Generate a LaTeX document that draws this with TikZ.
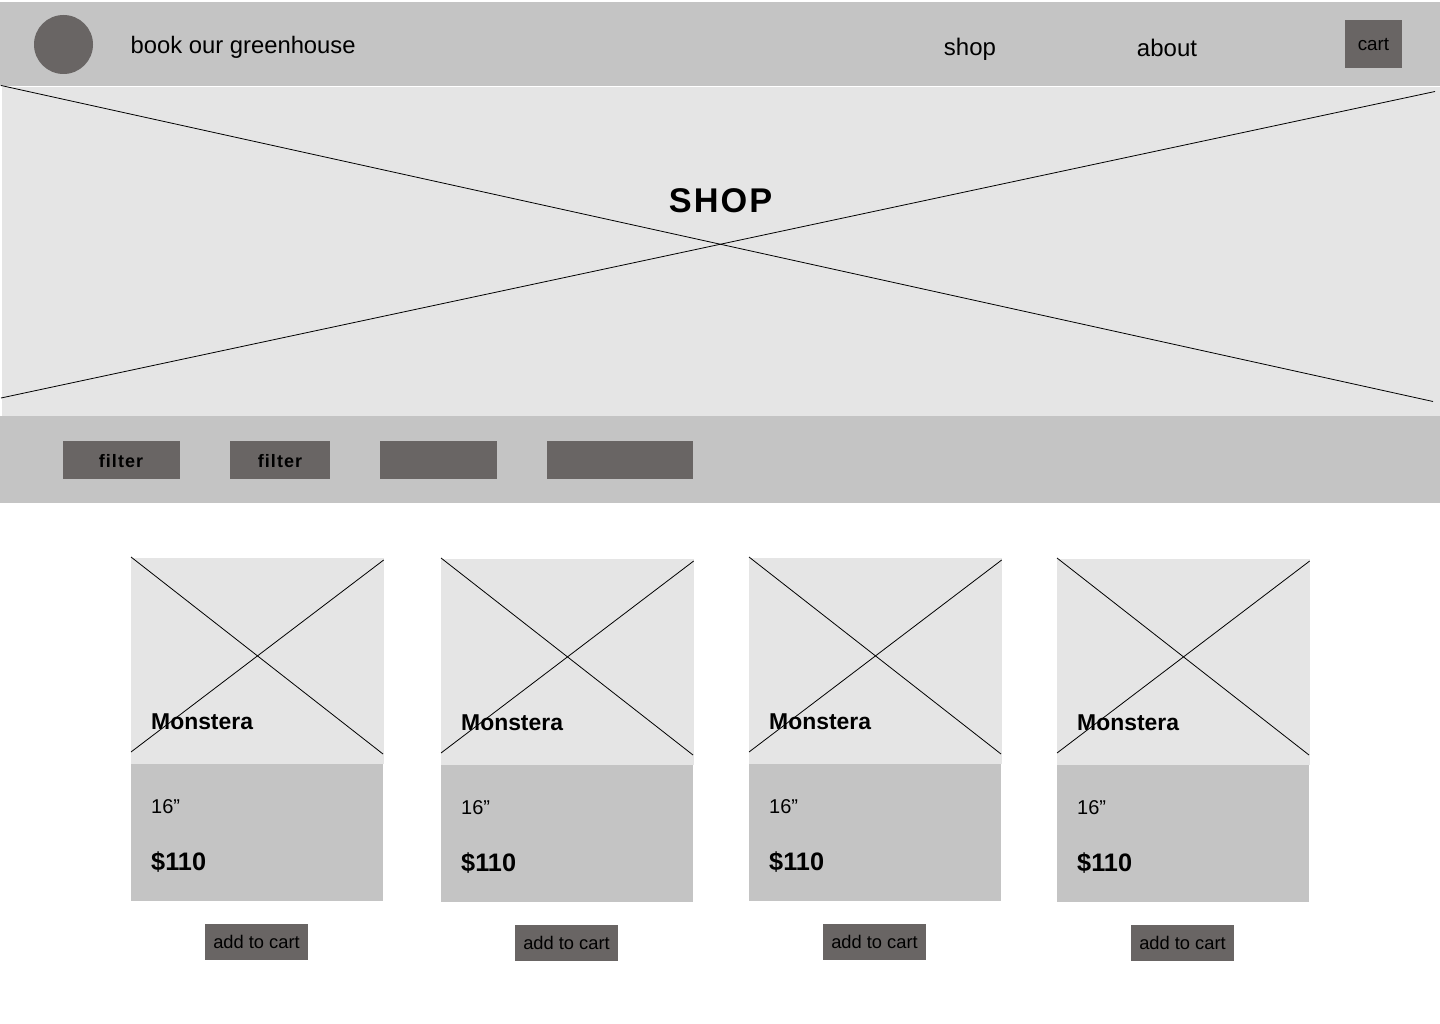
\documentclass[tikz,border=0pt]{standalone}
\usepackage{fontspec}
\setmainfont{Liberation Sans}
\newfontfamily\spacedfont[LetterSpace=6,BoldFont={Liberation Sans Bold}]{Liberation Sans}
\definecolor{bargray}{HTML}{C4C4C4}
\definecolor{imagegray}{HTML}{E5E5E5}
\definecolor{buttongray}{HTML}{696564}
\tikzset{
    label text/.style={anchor=base west, inner sep=0pt, text=black},
    button text/.style={anchor=base, inner sep=0pt, text=black},
    cross/.style={draw=black, line width=0.8pt}
}

\begin{document}
\begin{tikzpicture}[x=1pt,y=-1pt]
    \useasboundingbox (0,0) rectangle (1440,1024);

    % top bar
    \fill[bargray] (0,2) rectangle (1440,85.7);
    \fill[buttongray] (63.5,44.5) circle(29.5);
    \node[label text, font=\fontsize{23.8}{28}\selectfont] at (130.5,53.5) (title) {book our greenhouse};
    \node[button text, font=\fontsize{24}{28}\selectfont] at (970,55.5) (shop) {shop};
    \node[button text, font=\fontsize{24}{28}\selectfont] at (1167,56.5) (about) {about};
    \fill[buttongray] (1345,20) rectangle (1402,68);
    \node[button text, font=\fontsize{18.8}{22}\selectfont] at (1373.5,50.5) (cart) {cart};

    % hero
    \fill[imagegray] (2,87) rectangle (1440,416);
    \draw[cross] (1,85.5) -- (1433,401.5);
    \draw[cross] (1,398) -- (1435,91.5);
    \node[button text, font=\fontsize{34.3}{40}\selectfont\spacedfont\bfseries] at (720.5,213) (heading) {SHOP};

    % filter bar
    \fill[bargray] (0,416) rectangle (1440,503);
    \fill[buttongray] (63,441) rectangle (180,479);
    \fill[buttongray] (230,441) rectangle (330,479);
    \fill[buttongray] (380,441) rectangle (497,479);
    \fill[buttongray] (547,441) rectangle (693,479);
    \node[button text, font=\fontsize{18}{22}\selectfont\spacedfont\bfseries] at (121,467) (filterA) {filter};
    \node[button text, font=\fontsize{18}{22}\selectfont\spacedfont\bfseries] at (280,467) (filterB) {filter};

    % cards
    \foreach \x/\y/\n in {131/558/A, 441/559/B, 749/558/C, 1057/559/D} {
        \fill[imagegray] (\x,\y) rectangle (\x+252.7,\y+206);
        \fill[bargray] (\x,\y+206) rectangle (\x+252,\y+343);
        \draw[cross] (\x,\y-1) -- (\x+252,\y+196);
        \draw[cross] (\x,\y+194) -- (\x+252.7,\y+2);
        \fill[buttongray] (\x+74,\y+366) rectangle (\x+177,\y+402);
        \node[label text, font=\fontsize{22.9}{28}\selectfont\bfseries] at (\x+20,\y+171) (name\n) {Monstera};
        \node[label text, font=\fontsize{20}{24}\selectfont] at (\x+20,\y+255) (size\n) {16”};
        \node[label text, font=\fontsize{25.3}{30}\selectfont\bfseries] at (\x+20,\y+312) (price\n) {\$110};
        \node[button text, font=\fontsize{18.3}{22}\selectfont] at (\x+125.5,\y+390) (add\n) {add to cart};
    }
\end{tikzpicture}
\end{document}
